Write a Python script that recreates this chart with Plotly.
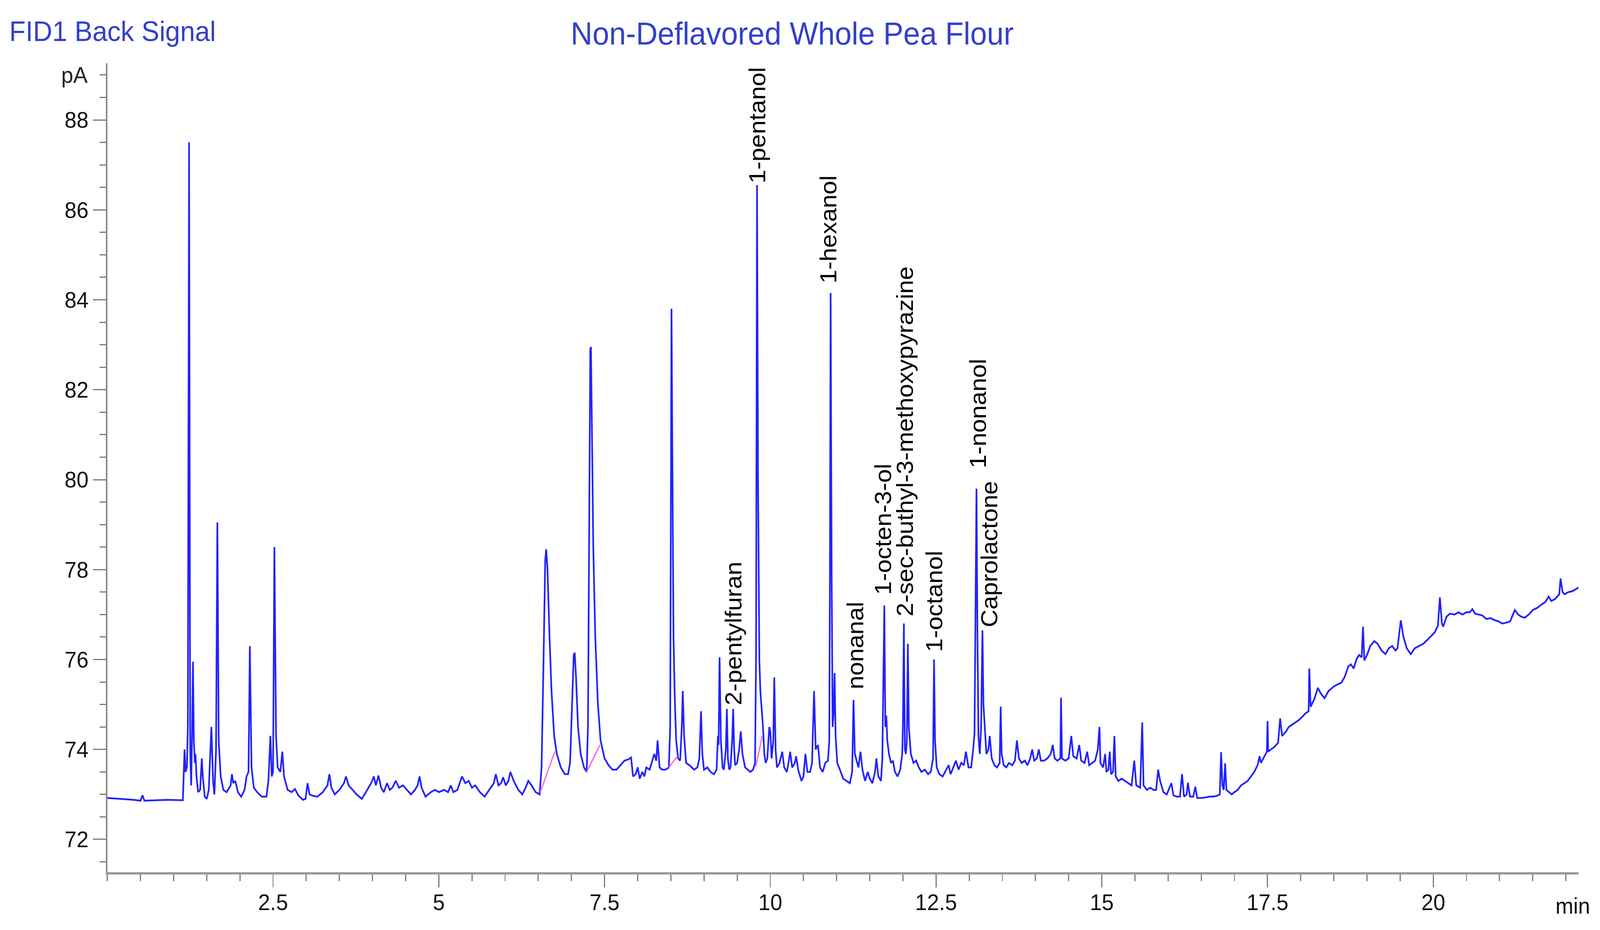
import plotly.graph_objects as go

# ---------------- data (time [min], signal [pA]) ----------------
seg_0_to_2_5 = [
    (0.00, 72.92), (0.20, 72.90), (0.40, 72.88), (0.50, 72.86), (0.53, 72.98), (0.56, 72.86),
    (0.70, 72.87), (0.90, 72.88), (1.14, 72.87), (1.15, 73.35), (1.165, 74.0), (1.18, 73.5),
    (1.20, 73.6), (1.215, 74.5), (1.233, 87.5), (1.25, 74.0), (1.265, 73.2), (1.28, 74.5),
    (1.292, 75.95), (1.305, 74.2), (1.32, 73.7), (1.33, 73.9), (1.345, 73.4), (1.37, 73.05),
    (1.40, 73.1), (1.425, 73.8), (1.44, 73.4), (1.47, 72.95), (1.50, 72.9), (1.53, 73.1),
    (1.57, 74.5), (1.595, 73.3), (1.615, 73.0), (1.64, 74.0), (1.66, 79.05), (1.68, 74.2),
    (1.71, 73.4), (1.75, 73.1), (1.80, 73.05), (1.86, 73.2), (1.88, 73.45), (1.90, 73.25),
    (1.93, 73.3), (1.97, 73.05), (2.02, 72.95), (2.07, 73.1), (2.10, 73.4), (2.13, 73.5),
    (2.15, 76.3), (2.175, 73.6), (2.21, 73.15), (2.26, 73.05), (2.33, 72.95), (2.40, 72.95),
    (2.43, 73.3), (2.46, 74.3), (2.48, 73.4),
]
seg_2_5_to_6_5 = [
    (2.50, 73.5), (2.52, 78.5), (2.545, 74.3), (2.57, 73.6), (2.61, 73.5), (2.64, 73.95),
    (2.665, 73.4), (2.72, 73.1), (2.78, 73.05), (2.83, 73.12), (2.88, 72.98), (2.95, 72.88),
    (2.99, 72.9), (3.02, 73.25), (3.05, 73.0), (3.10, 72.97), (3.17, 72.95), (3.25, 73.05),
    (3.32, 73.2), (3.35, 73.45), (3.38, 73.15), (3.43, 73.0), (3.50, 73.1), (3.57, 73.25),
    (3.60, 73.4), (3.64, 73.2), (3.70, 73.1), (3.76, 73.0), (3.84, 72.9), (3.92, 73.1),
    (3.98, 73.25), (4.02, 73.4), (4.05, 73.2), (4.09, 73.42), (4.13, 73.15), (4.17, 73.05),
    (4.22, 73.25), (4.26, 73.1), (4.30, 73.15), (4.35, 73.3), (4.40, 73.15), (4.46, 73.2),
    (4.52, 73.1), (4.58, 73.0), (4.64, 73.1), (4.68, 73.2), (4.71, 73.4), (4.74, 73.15),
    (4.80, 72.95), (4.88, 73.05), (4.94, 73.1), (5.00, 73.05), (5.08, 73.1), (5.14, 73.05),
    (5.18, 73.2), (5.22, 73.05), (5.28, 73.1), (5.35, 73.4), (5.40, 73.25), (5.45, 73.3),
    (5.50, 73.15), (5.55, 73.2), (5.62, 73.05), (5.69, 72.95), (5.76, 73.1), (5.83, 73.25),
    (5.86, 73.45), (5.90, 73.2), (5.94, 73.25), (5.97, 73.38), (6.01, 73.2), (6.05, 73.3),
    (6.08, 73.5), (6.13, 73.3), (6.20, 73.1), (6.26, 73.0), (6.31, 73.15), (6.35, 73.3),
    (6.40, 73.2), (6.46, 73.05), (6.52, 73.0),
]
seg_6_5_to_9_8 = [
    (6.55, 73.6), (6.58, 76.0), (6.605, 78.2), (6.62, 78.45), (6.64, 78.0), (6.67, 76.5),
    (6.70, 75.3), (6.74, 74.3), (6.78, 73.9), (6.84, 73.6), (6.90, 73.45), (6.95, 73.45),
    (6.98, 73.7), (7.01, 75.0), (7.035, 76.1), (7.05, 76.15), (7.07, 75.6), (7.10, 74.5),
    (7.14, 73.9), (7.19, 73.6), (7.23, 73.5), (7.25, 74.5), (7.27, 79.0), (7.285, 82.9),
    (7.295, 82.95), (7.31, 81.0), (7.33, 78.5), (7.36, 76.5), (7.40, 75.0), (7.44, 74.2),
    (7.50, 73.8), (7.56, 73.65), (7.62, 73.55), (7.68, 73.55), (7.74, 73.65), (7.80, 73.75),
    (7.86, 73.78), (7.90, 73.82), (7.93, 73.4), (7.97, 73.45), (8.00, 73.6), (8.03, 73.35),
    (8.07, 73.5), (8.10, 73.4), (8.13, 73.6), (8.18, 73.55), (8.22, 73.75), (8.25, 73.9),
    (8.28, 73.75), (8.30, 74.2), (8.33, 73.6), (8.37, 73.55), (8.42, 73.55), (8.47, 73.6),
    (8.49, 74.5), (8.50, 80.0), (8.51, 83.8), (8.525, 80.0), (8.54, 76.5), (8.56, 75.1),
    (8.58, 74.2), (8.61, 73.8), (8.64, 73.75), (8.665, 74.5), (8.68, 75.3), (8.70, 74.3),
    (8.73, 73.7), (8.78, 73.65), (8.85, 73.55), (8.90, 73.6), (8.93, 73.8), (8.955, 74.85),
    (8.975, 73.9), (9.00, 73.55), (9.05, 73.6), (9.10, 73.5), (9.15, 73.45), (9.19, 73.55),
    (9.21, 74.3), (9.22, 74.1), (9.235, 76.05), (9.255, 74.2), (9.28, 73.6), (9.30, 73.55),
    (9.33, 74.0), (9.345, 74.9), (9.36, 73.8), (9.38, 73.55), (9.40, 73.6), (9.425, 74.2),
    (9.44, 74.9), (9.455, 74.0), (9.47, 73.65), (9.50, 73.7), (9.53, 74.0), (9.555, 74.4),
    (9.58, 73.9), (9.62, 73.6), (9.66, 73.55), (9.70, 73.5), (9.74, 73.55), (9.77, 73.7),
    (9.785, 76.0), (9.80, 86.55), (9.815, 80.0), (9.835, 76.0), (9.85, 75.3), (9.87, 74.9),
    (9.89, 74.5), (9.91, 73.9), (9.93, 73.7), (9.955, 73.8), (9.985, 74.5),
]
seg_10_to_13_5 = [
    (10.00, 74.4), (10.02, 73.8), (10.045, 74.2), (10.06, 75.6), (10.08, 74.0), (10.10, 73.6),
    (10.14, 73.7), (10.18, 73.95), (10.21, 73.6), (10.25, 73.5), (10.28, 73.75), (10.30, 73.95),
    (10.33, 73.6), (10.37, 73.7), (10.39, 73.85), (10.42, 73.55), (10.47, 73.3), (10.50, 73.4),
    (10.53, 73.9), (10.56, 73.5), (10.60, 73.5), (10.63, 73.7), (10.66, 75.3), (10.685, 74.0),
    (10.72, 74.1), (10.75, 73.6), (10.79, 73.5), (10.83, 73.7), (10.87, 73.75), (10.89, 74.2),
    (10.90, 78.0), (10.91, 84.15), (10.925, 78.0), (10.94, 74.5), (10.955, 74.8), (10.97, 75.7),
    (10.985, 74.3), (11.01, 73.7), (11.05, 73.55), (11.10, 73.35), (11.15, 73.3), (11.20, 73.25),
    (11.235, 73.5), (11.255, 75.1), (11.275, 73.9), (11.30, 73.75), (11.33, 73.6), (11.36, 73.95),
    (11.39, 73.55), (11.43, 73.3), (11.47, 73.5), (11.50, 73.35), (11.54, 73.25), (11.58, 73.5),
    (11.60, 73.8), (11.63, 73.4), (11.67, 73.3), (11.69, 73.8), (11.705, 75.5), (11.72, 77.2),
    (11.735, 74.5), (11.75, 74.75), (11.765, 74.2), (11.79, 73.9), (11.82, 73.7), (11.85, 73.75),
    (11.88, 73.5), (11.92, 73.4), (11.96, 73.55), (11.99, 73.9), (12.00, 74.5), (12.015, 76.8),
    (12.03, 74.0), (12.045, 73.9), (12.06, 74.2), (12.075, 76.35), (12.09, 74.5), (12.12, 73.9),
    (12.16, 73.7), (12.20, 73.75), (12.24, 73.6), (12.28, 73.5), (12.33, 73.55), (12.38, 73.45),
    (12.42, 73.5), (12.455, 73.8), (12.47, 76.0), (12.485, 74.2), (12.51, 73.6), (12.55, 73.45),
    (12.60, 73.4), (12.65, 73.55), (12.69, 73.65), (12.72, 73.45), (12.76, 73.6), (12.80, 73.75),
    (12.84, 73.55), (12.88, 73.7), (12.92, 73.65), (12.95, 73.95), (12.99, 73.6), (13.03, 73.6),
    (13.06, 74.0), (13.08, 74.35), (13.095, 77.0), (13.11, 79.8), (13.125, 76.5), (13.14, 74.3),
    (13.16, 73.9), (13.18, 74.5), (13.20, 76.65), (13.215, 75.0), (13.235, 74.5), (13.26, 73.9),
    (13.29, 74.0), (13.31, 74.3), (13.34, 73.8), (13.38, 73.65), (13.42, 73.6), (13.46, 73.7),
]
seg_13_5_to_17 = [
    (13.475, 74.95), (13.49, 73.9), (13.52, 73.65), (13.56, 73.6), (13.60, 73.7), (13.65, 73.65),
    (13.69, 73.75), (13.72, 74.2), (13.75, 73.8), (13.79, 73.7), (13.84, 73.75), (13.88, 73.65),
    (13.92, 73.8), (13.95, 74.0), (13.98, 73.75), (14.02, 73.8), (14.05, 74.0), (14.08, 73.75),
    (14.13, 73.75), (14.18, 73.8), (14.23, 73.9), (14.26, 74.1), (14.29, 73.8), (14.33, 73.75),
    (14.375, 73.8), (14.385, 75.15), (14.40, 73.8), (14.45, 73.75), (14.50, 73.8), (14.54, 74.3),
    (14.57, 73.85), (14.62, 73.8), (14.66, 74.1), (14.69, 73.75), (14.74, 73.7), (14.78, 73.95),
    (14.81, 73.65), (14.85, 73.7), (14.90, 73.75), (14.94, 74.0), (14.965, 74.5), (14.98, 73.7),
    (15.02, 73.6), (15.05, 73.9), (15.07, 73.5), (15.10, 73.55), (15.12, 73.95), (15.14, 73.45),
    (15.17, 73.5), (15.19, 74.3), (15.21, 73.4), (15.25, 73.3), (15.30, 73.35), (15.35, 73.3),
    (15.40, 73.25), (15.45, 73.2), (15.49, 73.75), (15.52, 73.2), (15.58, 73.15), (15.61, 74.6),
    (15.63, 73.2), (15.68, 73.1), (15.73, 73.15), (15.78, 73.1), (15.82, 73.1), (15.85, 73.55),
    (15.88, 73.3), (15.93, 73.05), (15.98, 73.0), (16.05, 73.25), (16.08, 72.98), (16.13, 72.95),
    (16.18, 72.95), (16.21, 73.45), (16.24, 72.95), (16.28, 73.0), (16.30, 73.26), (16.33, 72.95),
    (16.38, 72.95), (16.41, 73.17), (16.44, 72.92), (16.50, 72.92), (16.56, 72.93), (16.62, 72.95),
    (16.68, 72.95), (16.74, 72.97), (16.78, 73.0), (16.80, 73.94), (16.82, 73.2), (16.84, 73.1),
    (16.86, 73.69), (16.88, 73.1), (16.92, 73.05), (16.96, 73.0),
]
seg_17_to_end = [
    (17.00, 73.05), (17.05, 73.1), (17.10, 73.2), (17.15, 73.25), (17.20, 73.3), (17.25, 73.4),
    (17.30, 73.5), (17.35, 73.65), (17.38, 73.85), (17.40, 73.7), (17.45, 73.85), (17.49, 73.95),
    (17.50, 74.63), (17.51, 73.95), (17.55, 74.0), (17.60, 74.05), (17.66, 74.15), (17.69, 74.69),
    (17.72, 74.3), (17.78, 74.4), (17.82, 74.5), (17.87, 74.55), (17.92, 74.6), (17.97, 74.65),
    (18.02, 74.72), (18.07, 74.8), (18.12, 74.85), (18.13, 75.8), (18.15, 74.95), (18.20, 75.1),
    (18.26, 75.37), (18.30, 75.25), (18.36, 75.14), (18.42, 75.3), (18.50, 75.4), (18.56, 75.45),
    (18.61, 75.48), (18.66, 75.6), (18.72, 75.85), (18.76, 75.89), (18.80, 75.8), (18.84, 76.0),
    (18.88, 76.1), (18.92, 76.05), (18.94, 76.73), (18.96, 75.98), (19.00, 76.1), (19.05, 76.3),
    (19.11, 76.41), (19.16, 76.35), (19.22, 76.2), (19.28, 76.12), (19.33, 76.25), (19.38, 76.3),
    (19.43, 76.2), (19.46, 76.25), (19.51, 76.87), (19.55, 76.5), (19.60, 76.25), (19.66, 76.12),
    (19.72, 76.25), (19.78, 76.3), (19.85, 76.35), (19.92, 76.45), (19.97, 76.52), (20.02, 76.6),
    (20.07, 76.75), (20.10, 77.38), (20.13, 76.8), (20.15, 76.73), (20.20, 76.95), (20.25, 77.02),
    (20.32, 77.0), (20.38, 77.05), (20.44, 77.0), (20.50, 77.05), (20.55, 77.05), (20.59, 77.12),
    (20.63, 77.02), (20.68, 77.0), (20.74, 76.98), (20.80, 76.9), (20.86, 76.92), (20.92, 76.88),
    (20.98, 76.85), (21.04, 76.8), (21.10, 76.82), (21.16, 76.85), (21.23, 77.1), (21.28, 77.0),
    (21.33, 76.95), (21.38, 76.93), (21.44, 77.0), (21.50, 77.1), (21.57, 77.15), (21.63, 77.22),
    (21.69, 77.28), (21.74, 77.4), (21.78, 77.3), (21.84, 77.35), (21.90, 77.45), (21.92, 77.8),
    (21.95, 77.5), (21.98, 77.45), (22.04, 77.5), (22.10, 77.52), (22.16, 77.58), (22.19, 77.6),
]

# integration baselines (pink): start time, start value, end time, end value
integ_t0 = [6.53, 7.23, 8.47, 9.78]
integ_v0 = [73.05, 73.50, 73.60, 73.62]
integ_t1 = [6.75, 7.43, 8.60, 9.88]
integ_v1 = [73.95, 74.10, 73.85, 74.30]

# compound labels: text, time position, signal value where the text starts
label_text = ["2-pentylfuran", "1-pentanol", "1-hexanol", "nonanal", "1-octen-3-ol",
              "2-sec-buthyl-3-methoxypyrazine", "1-octanol", "1-nonanol", "Caprolactone"]
label_t = [9.44, 9.80, 10.87, 11.28, 11.70, 12.03, 12.47, 13.13, 13.30]
label_v = [74.96, 86.57, 84.35, 75.32, 77.42, 76.94, 76.15, 80.24, 76.70]

y_tick_vals = [72, 74, 76, 78, 80, 82, 84, 86, 88]
x_tick_vals = [2.5, 5, 7.5, 10, 12.5, 15, 17.5, 20]
x_tick_text = ["2.5", "5", "7.5", "10", "12.5", "15", "17.5", "20"]

# ---------------- figure ----------------
points = seg_0_to_2_5 + seg_2_5_to_6_5 + seg_6_5_to_9_8 + seg_10_to_13_5 + seg_13_5_to_17 + seg_17_to_end
time_min = [p[0] for p in points]
signal_pa = [p[1] for p in points]

W, H = 4309, 2381
L, R, T, B = 289, 4251, 162, 2233
FONT = "Liberation Sans, Arial, sans-serif"


def px(xp):
    return (xp - L) / (R - L)


def py(yp):
    return (B - yp) / (B - T)


fig = go.Figure()
fig.add_trace(go.Scatter(x=time_min, y=signal_pa, mode="lines",
                         line=dict(color="#2222ff", width=4.5), hoverinfo="skip"))

pink_x, pink_y = [], []
for a, b, c, d in zip(integ_t0, integ_v0, integ_t1, integ_v1):
    pink_x += [a, c, None]
    pink_y += [b, d, None]
fig.add_trace(go.Scatter(x=pink_x, y=pink_y, mode="lines",
                         line=dict(color="#ff66dd", width=3.5), hoverinfo="skip"))

annotations = []
for txt, t, v in zip(label_text, label_t, label_v):
    annotations.append(dict(x=t, y=v, xref="x", yref="y", text=txt, showarrow=False,
                            textangle=-90, xanchor="center", yanchor="bottom",
                            font=dict(family=FONT, size=63, color="#000000")))

annotations += [
    dict(x=px(23), y=py(80), xref="paper", yref="paper", text="FID1 Back Signal",
         showarrow=False, xanchor="left", yanchor="middle",
         font=dict(family=FONT, size=72, color="#3340cc")),
    dict(x=px(2133), y=py(86), xref="paper", yref="paper", text="Non-Deflavored Whole Pea Flour",
         showarrow=False, xanchor="center", yanchor="middle",
         font=dict(family=FONT, size=81, color="#3340cc")),
    dict(x=px(238), y=89, xref="paper", yref="y", text="pA", showarrow=False,
         xanchor="right", yanchor="middle", font=dict(family=FONT, size=58, color="#222222")),
    dict(x=px(4187), y=py(2318), xref="paper", yref="paper", text="min", showarrow=False,
         xanchor="left", yanchor="middle", font=dict(family=FONT, size=58, color="#111111")),
]

fig.update_layout(
    width=W, height=H,
    margin=dict(l=L, r=W - R, t=T, b=H - B, pad=0),
    paper_bgcolor="white", plot_bgcolor="white",
    showlegend=False,
    annotations=annotations,
)
fig.update_xaxes(range=[0, 22.19], showgrid=False, zeroline=False,
                 showline=True, linecolor="#9a9a9a", linewidth=6,
                 ticks="outside", ticklen=33, tickwidth=3, tickcolor="#7a7a7a",
                 tickvals=x_tick_vals, ticktext=x_tick_text, ticklabelstandoff=-12,
                 tickfont=dict(family=FONT, size=58, color="#111111"),
                 minor=dict(dtick=0.5, tick0=0, ticks="outside", ticklen=17, tickwidth=3, tickcolor="#7a7a7a"))
fig.update_yaxes(range=[71.27, 89.26], showgrid=False, zeroline=False,
                 showline=True, linecolor="#8a8a8a", linewidth=4,
                 ticks="outside", ticklen=35, tickwidth=3, tickcolor="#7a7a7a",
                 tickvals=y_tick_vals, ticktext=[str(v) for v in y_tick_vals],
                 tickfont=dict(family=FONT, size=58, color="#111111"),
                 minor=dict(dtick=0.5, tick0=0, ticks="outside", ticklen=17, tickwidth=3, tickcolor="#7a7a7a"))

# fit the fixed-size figure to the browser viewport (no page margin, no scrollbars)
fit_script = """
(function(){
  var de = document.documentElement, bd = document.body;
  de.style.margin = '0'; de.style.padding = '0'; de.style.overflow = 'hidden';
  bd.style.margin = '0'; bd.style.padding = '0'; bd.style.overflow = 'hidden';
  var g = document.getElementById('{plot_id}');
  var sx = window.innerWidth / %d, sy = window.innerHeight / %d;
  if (Math.abs(sx - 1) > 0.002 || Math.abs(sy - 1) > 0.002) {
    g.style.transformOrigin = '0 0';
    g.style.transform = 'scale(' + sx + ',' + sy + ')';
  }
})();
""" % (W, H)

fig.write_html("out.html", post_script=fit_script, config={"displayModeBar": False})
